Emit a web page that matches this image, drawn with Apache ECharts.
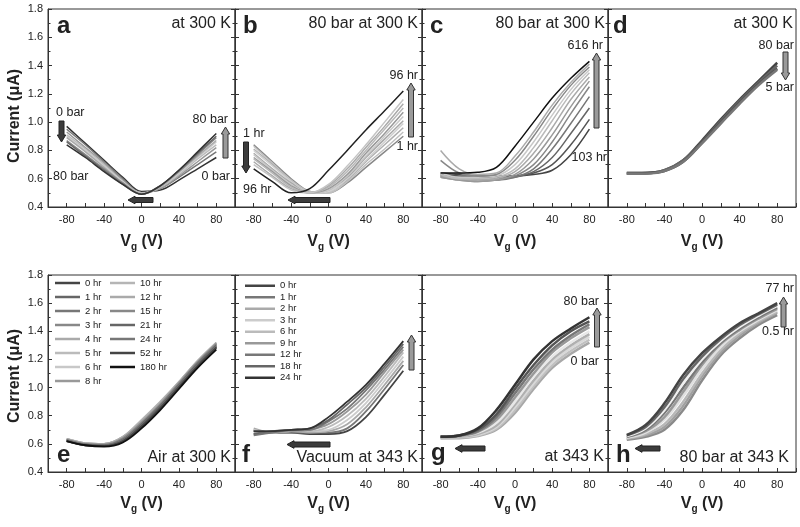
<!DOCTYPE html>
<html>
<head>
<meta charset="UTF-8">
<title>Transfer curves</title>
<script src="https://cdn.jsdelivr.net/npm/echarts@6/dist/echarts.min.js"></script>
<style>html,body{margin:0;padding:0;background:#fff;}</style>
</head>
<body>
<div id="chart" style="width:800px;height:527px;"></div>
<script>
// gate voltage (V), one sample every 20 V
var vg = [-80, -60, -40, -20, 0, 20, 40, 60, 80];
var xTickLabels = [-80, -40, 0, 40, 80];

// (a) pressure sweep at 300 K, 0 bar -> 80 bar
var curvesA = [
  [0.97, 0.85, 0.73, 0.61, 0.51, 0.52, 0.59, 0.67, 0.75],
  [0.95, 0.84, 0.72, 0.60, 0.50, 0.53, 0.61, 0.70, 0.79],
  [0.93, 0.82, 0.71, 0.59, 0.50, 0.53, 0.62, 0.72, 0.82],
  [0.91, 0.81, 0.70, 0.58, 0.50, 0.54, 0.63, 0.74, 0.84],
  [0.90, 0.80, 0.69, 0.58, 0.49, 0.54, 0.64, 0.75, 0.86],
  [0.89, 0.79, 0.68, 0.57, 0.49, 0.54, 0.65, 0.76, 0.87],
  [0.87, 0.77, 0.67, 0.57, 0.49, 0.55, 0.65, 0.77, 0.89],
  [0.86, 0.76, 0.66, 0.56, 0.49, 0.55, 0.66, 0.78, 0.90],
  [0.84, 0.75, 0.65, 0.56, 0.49, 0.55, 0.66, 0.79, 0.92]
];
// (b) 80 bar at 300 K, 1 hr -> 96 hr
var curvesB = [
  [0.84, 0.72, 0.60, 0.51, 0.50, 0.57, 0.68, 0.79, 0.90],
  [0.83, 0.71, 0.59, 0.51, 0.50, 0.58, 0.70, 0.81, 0.93],
  [0.81, 0.70, 0.58, 0.50, 0.51, 0.59, 0.72, 0.84, 0.96],
  [0.80, 0.69, 0.58, 0.50, 0.51, 0.60, 0.73, 0.86, 0.99],
  [0.78, 0.67, 0.57, 0.50, 0.52, 0.61, 0.75, 0.88, 1.01],
  [0.77, 0.66, 0.56, 0.50, 0.52, 0.62, 0.76, 0.90, 1.04],
  [0.75, 0.65, 0.55, 0.50, 0.53, 0.63, 0.78, 0.92, 1.07],
  [0.74, 0.64, 0.54, 0.50, 0.54, 0.65, 0.80, 0.95, 1.10],
  [0.72, 0.62, 0.53, 0.50, 0.55, 0.67, 0.82, 0.97, 1.13],
  [0.70, 0.61, 0.52, 0.50, 0.56, 0.69, 0.84, 1.00, 1.16],
  [0.67, 0.58, 0.50, 0.53, 0.66, 0.80, 0.945, 1.08, 1.22]
];
// (c) 80 bar at 300 K, 103 hr -> 616 hr
var curvesC = [
  [0.64, 0.63, 0.62, 0.62, 0.62, 0.63, 0.66, 0.77, 0.95],
  [0.63, 0.62, 0.61, 0.61, 0.62, 0.64, 0.70, 0.84, 1.02],
  [0.62, 0.61, 0.60, 0.60, 0.61, 0.65, 0.75, 0.92, 1.10],
  [0.62, 0.60, 0.59, 0.59, 0.61, 0.67, 0.81, 0.99, 1.18],
  [0.61, 0.59, 0.58, 0.59, 0.62, 0.70, 0.86, 1.06, 1.25],
  [0.61, 0.59, 0.58, 0.59, 0.63, 0.74, 0.91, 1.11, 1.29],
  [0.62, 0.60, 0.59, 0.60, 0.65, 0.78, 0.96, 1.16, 1.32],
  [0.63, 0.60, 0.60, 0.61, 0.67, 0.82, 1.01, 1.20, 1.35],
  [0.64, 0.61, 0.61, 0.62, 0.70, 0.86, 1.05, 1.23, 1.37],
  [0.73, 0.64, 0.62, 0.63, 0.73, 0.90, 1.09, 1.26, 1.39],
  [0.80, 0.67, 0.63, 0.64, 0.76, 0.93, 1.12, 1.28, 1.41],
  [0.64, 0.64, 0.645, 0.68, 0.83, 1.00, 1.17, 1.31, 1.43]
];
// (d) pressure sweep at 300 K, 80 bar -> 5 bar
var curvesD = [
  [0.64, 0.64, 0.66, 0.73, 0.87, 1.02, 1.16, 1.29, 1.42],
  [0.64, 0.64, 0.66, 0.73, 0.86, 1.01, 1.15, 1.28, 1.40],
  [0.635, 0.64, 0.655, 0.72, 0.855, 1.00, 1.14, 1.27, 1.38],
  [0.635, 0.635, 0.655, 0.72, 0.85, 0.99, 1.13, 1.26, 1.37]
];
// (e) air at 300 K
var namesE = ['0 hr', '1 hr', '2 hr', '3 hr', '4 hr', '5 hr', '6 hr', '8 hr',
              '10 hr', '12 hr', '15 hr', '21 hr', '24 hr', '52 hr', '180 hr'];
var curvesE = [
  [0.62, 0.59, 0.585, 0.615, 0.72, 0.85, 1.00, 1.15, 1.28],
  [0.625, 0.595, 0.59, 0.62, 0.73, 0.86, 1.01, 1.16, 1.29],
  [0.625, 0.595, 0.59, 0.625, 0.735, 0.865, 1.015, 1.165, 1.295],
  [0.63, 0.60, 0.595, 0.63, 0.74, 0.87, 1.02, 1.17, 1.30],
  [0.63, 0.60, 0.595, 0.635, 0.75, 0.88, 1.025, 1.175, 1.305],
  [0.635, 0.60, 0.60, 0.64, 0.755, 0.885, 1.03, 1.18, 1.31],
  [0.635, 0.605, 0.60, 0.645, 0.76, 0.89, 1.035, 1.185, 1.315],
  [0.635, 0.605, 0.60, 0.65, 0.765, 0.895, 1.04, 1.19, 1.32],
  [0.635, 0.605, 0.60, 0.65, 0.77, 0.90, 1.04, 1.19, 1.32],
  [0.63, 0.60, 0.60, 0.645, 0.76, 0.89, 1.035, 1.185, 1.315],
  [0.63, 0.60, 0.595, 0.64, 0.75, 0.88, 1.03, 1.18, 1.31],
  [0.625, 0.595, 0.59, 0.63, 0.74, 0.87, 1.02, 1.17, 1.30],
  [0.625, 0.595, 0.59, 0.625, 0.73, 0.86, 1.01, 1.16, 1.29],
  [0.62, 0.59, 0.585, 0.62, 0.725, 0.855, 1.005, 1.155, 1.285],
  [0.62, 0.59, 0.58, 0.61, 0.71, 0.84, 0.99, 1.14, 1.27]
];
// (f) vacuum at 343 K
var namesF = ['0 hr', '1 hr', '2 hr', '3 hr', '6 hr', '9 hr', '12 hr', '18 hr', '24 hr'];
var curvesF = [
  [0.69, 0.68, 0.68, 0.67, 0.67, 0.69, 0.79, 0.95, 1.12],
  [0.70, 0.68, 0.68, 0.68, 0.68, 0.71, 0.83, 0.99, 1.16],
  [0.71, 0.68, 0.69, 0.68, 0.69, 0.74, 0.86, 1.02, 1.19],
  [0.70, 0.68, 0.69, 0.69, 0.70, 0.77, 0.89, 1.05, 1.22],
  [0.68, 0.68, 0.69, 0.69, 0.72, 0.80, 0.92, 1.08, 1.25],
  [0.67, 0.68, 0.69, 0.70, 0.74, 0.83, 0.95, 1.11, 1.27],
  [0.66, 0.68, 0.70, 0.70, 0.76, 0.85, 0.98, 1.13, 1.29],
  [0.67, 0.69, 0.70, 0.71, 0.77, 0.88, 1.00, 1.15, 1.31],
  [0.69, 0.69, 0.70, 0.71, 0.79, 0.90, 1.02, 1.17, 1.33]
];
// (g) pressure sweep at 343 K, 0 bar -> 80 bar
var curvesG = [
  [0.64, 0.64, 0.655, 0.70, 0.82, 0.99, 1.14, 1.24, 1.32],
  [0.64, 0.645, 0.66, 0.71, 0.84, 1.01, 1.16, 1.26, 1.34],
  [0.645, 0.65, 0.665, 0.72, 0.86, 1.03, 1.18, 1.28, 1.36],
  [0.645, 0.65, 0.67, 0.73, 0.88, 1.05, 1.20, 1.30, 1.38],
  [0.65, 0.655, 0.68, 0.75, 0.90, 1.08, 1.22, 1.32, 1.40],
  [0.65, 0.655, 0.685, 0.77, 0.93, 1.10, 1.25, 1.35, 1.43],
  [0.65, 0.66, 0.69, 0.79, 0.96, 1.13, 1.27, 1.37, 1.45],
  [0.65, 0.66, 0.70, 0.81, 0.99, 1.16, 1.30, 1.40, 1.47],
  [0.65, 0.66, 0.71, 0.84, 1.02, 1.20, 1.33, 1.42, 1.50]
];
// (h) 80 bar at 343 K, 0.5 hr -> 77 hr
var curvesH = [
  [0.63, 0.65, 0.70, 0.84, 1.05, 1.23, 1.35, 1.445, 1.515],
  [0.635, 0.66, 0.72, 0.87, 1.08, 1.25, 1.37, 1.46, 1.53],
  [0.64, 0.67, 0.74, 0.90, 1.10, 1.27, 1.385, 1.47, 1.54],
  [0.645, 0.68, 0.77, 0.94, 1.13, 1.29, 1.40, 1.48, 1.55],
  [0.65, 0.69, 0.79, 0.97, 1.16, 1.31, 1.41, 1.49, 1.56],
  [0.65, 0.70, 0.82, 1.00, 1.18, 1.32, 1.42, 1.50, 1.57],
  [0.655, 0.71, 0.84, 1.03, 1.20, 1.33, 1.43, 1.51, 1.58],
  [0.66, 0.72, 0.86, 1.06, 1.22, 1.345, 1.445, 1.52, 1.59],
  [0.663, 0.734, 0.888, 1.09, 1.244, 1.36, 1.457, 1.528, 1.60]
];

// line colours (grey levels) per panel
var colorsA = ['#333', '#777', '#999', '#bbb', '#ccc', '#aaa', '#888', '#666', '#333'];
var colorsB = ['#888', '#c0c0c0', '#b0b0b0', '#d0d0d0', '#a8a8a8', '#c8c8c8', '#999', '#b8b8b8', '#aaa', '#c4c4c4', '#222'];
var colorsC = ['#444', '#555', '#666', '#777', '#888', '#999', '#aaa', '#bbb', '#c8c8c8', '#888', '#aaa', '#111'];
var colorsD = ['#444', '#666', '#555', '#777'];
var colorsE = ['#444', '#666', '#777', '#888', '#aaa', '#bbb', '#c8c8c8', '#999',
               '#b5b5b5', '#aaa', '#888', '#666', '#777', '#444', '#111'];
var colorsF = ['#444', '#777', '#aaa', '#ccc', '#bbb', '#999', '#777', '#666', '#333'];
var colorsG = ['#a8a8a8', '#c0c0c0', '#d8d8d8', '#b0b0b0', '#e8e8e8', '#999', '#777', '#555', '#333'];
var colorsH = ['#8a8a8a', '#a0a0a0', '#b8b8b8', '#e0e0e0', '#999', '#777', '#f0f0f0', '#666', '#444'];

var ff = '"Liberation Sans", Arial, sans-serif';
var ink = '#222';
var axisInk = '#333';

var cellLeft = [48, 235, 422, 608];
var cellWidth = [187, 187, 186, 188];
var rowTop = [9, 275];
var rowHeight = [198, 197];

var grids = [], xAxes = [], yAxes = [], series = [];

for (var p = 0; p < 8; p++) {
  var row = Math.floor(p / 4), col = p % 4;
  grids.push({
    left: cellLeft[col], top: rowTop[row], width: cellWidth[col], height: rowHeight[row],
    show: true, borderColor: axisInk, borderWidth: 1, containLabel: false, outerBoundsMode: 'none'
  });
  xAxes.push({
    gridIndex: p, type: 'value', min: -100, max: 100, interval: 20,
    axisLine: { onZero: false, lineStyle: { color: axisInk } },
    axisTick: { inside: true, length: 4, lineStyle: { color: axisInk } },
    splitLine: { show: false },
    axisLabel: {
      fontSize: 11, fontFamily: ff, color: ink, margin: 7,
      formatter: function (v) { return xTickLabels.indexOf(v) >= 0 ? String(v) : ''; }
    },
    name: 'V{s|g} (V)', nameLocation: 'middle', nameGap: row === 0 ? 25 : 22,
    nameTextStyle: {
      fontSize: 16, fontWeight: 'bold', fontFamily: ff, color: ink, lineHeight: 20,
      rich: { s: { fontSize: 10, fontWeight: 'bold', fontFamily: ff, color: ink, verticalAlign: 'bottom', lineHeight: 20 } }
    }
  });
  yAxes.push({
    gridIndex: p, type: 'value', min: 0.4, max: 1.8, interval: 0.2, position: 'left',
    axisLine: { show: true, onZero: false, lineStyle: { color: axisInk } },
    axisTick: { inside: true, length: 4, lineStyle: { color: axisInk } },
    minorTick: { show: true, splitNumber: 2, length: 2.5, lineStyle: { color: axisInk } },
    splitLine: { show: false },
    axisLabel: {
      show: col === 0, fontSize: 11, fontFamily: ff, color: ink, margin: 5,
      formatter: function (v) { return v.toFixed(1); }
    }
  });
}
// right-hand ticks on the shared borders
for (var q = 0; q < 8; q++) {
  if (q % 4 === 3) continue;
  yAxes.push({
    gridIndex: q, type: 'value', min: 0.4, max: 1.8, interval: 0.2, position: 'right',
    axisLine: { show: false, onZero: false },
    axisTick: { inside: true, length: 4, lineStyle: { color: axisInk } },
    minorTick: { show: true, splitNumber: 2, length: 2.5, lineStyle: { color: axisInk } },
    splitLine: { show: false },
    axisLabel: { show: false }
  });
}

function addCurves(p, curves, colors, width, names, prefix) {
  curves.forEach(function (c, k) {
    series.push({
      type: 'line',
      name: names ? prefix + names[k] : undefined,
      xAxisIndex: p, yAxisIndex: p,
      data: vg.map(function (v, j) { return [v, c[j]]; }),
      smooth: 0.35, symbol: 'none', silent: true,
      color: colors[k],
      lineStyle: { width: width, color: colors[k] }
    });
  });
}
addCurves(0, curvesA, colorsA, 1.5);
addCurves(1, curvesB, colorsB, 1.5);
addCurves(2, curvesC, colorsC, 1.5);
addCurves(3, curvesD, colorsD, 2.5);
addCurves(4, curvesE, colorsE, 1.8, namesE, 'e:');
addCurves(5, curvesF, colorsF, 1.8, namesF, 'f:');
addCurves(6, curvesG, colorsG, 2.5);
addCurves(7, curvesH, colorsH, 2.5);

function legendBox(names, prefix, left, top, width, lh) {
  return {
    orient: 'vertical', left: left, top: top, itemGap: 0, padding: 0, selectedMode: false,
    icon: 'rect', itemWidth: width, itemHeight: 2.5,
    data: names.map(function (n) { return prefix + n; }),
    formatter: function (n) { return n.slice(2); },
    textStyle: { fontSize: 9.5, fontFamily: ff, color: ink, lineHeight: lh }
  };
}

function txt(x, y, s, size, align, bold) {
  return {
    type: 'text', x: x, y: y, silent: true,
    style: {
      text: s, fill: ink,
      font: (bold ? 'bold ' : '') + size + 'px ' + ff,
      align: align, textAlign: align, verticalAlign: 'middle', textVerticalAlign: 'middle'
    }
  };
}
function vArrow(cx, yTail, yTip, light) {
  var d = yTip > yTail ? 1 : -1, hb = yTip - d * 7;
  return {
    type: 'polygon', silent: true,
    shape: { points: [[cx - 2.5, yTail], [cx + 2.5, yTail], [cx + 2.5, hb], [cx + 4.2, hb], [cx, yTip], [cx - 4.2, hb], [cx - 2.5, hb]] },
    style: { fill: light ? '#9a9a9a' : '#3c3c3c', stroke: light ? '#333' : '#222', lineWidth: 1 }
  };
}
function hArrow(cy, xTail, xTip) {
  var d = xTip > xTail ? 1 : -1, hb = xTip - d * 7;
  return {
    type: 'polygon', silent: true,
    shape: { points: [[xTail, cy - 2.5], [xTail, cy + 2.5], [hb, cy + 2.5], [hb, cy + 3.8], [xTip, cy], [hb, cy - 3.8], [hb, cy - 2.5]] },
    style: { fill: '#3c3c3c', stroke: '#222', lineWidth: 1 }
  };
}

var graphics = [
  { type: 'text', x: 15, y: 116, rotation: Math.PI / 2, silent: true,
    style: { text: 'Current (μA)', fill: ink, font: 'bold 16px ' + ff, align: 'center', verticalAlign: 'middle', textAlign: 'center', textVerticalAlign: 'middle' } },
  { type: 'text', x: 15, y: 376, rotation: Math.PI / 2, silent: true,
    style: { text: 'Current (μA)', fill: ink, font: 'bold 16px ' + ff, align: 'center', verticalAlign: 'middle', textAlign: 'center', textVerticalAlign: 'middle' } },
  // panel letters and conditions
  txt(57, 26, 'a', 24, 'left', true), txt(231, 24, 'at 300 K', 16, 'right'),
  txt(243, 26, 'b', 24, 'left', true), txt(418, 24, '80 bar at 300 K', 16, 'right'),
  txt(430, 26, 'c', 24, 'left', true), txt(605, 24, '80 bar at 300 K', 16, 'right'),
  txt(613, 26, 'd', 24, 'left', true), txt(793, 24, 'at 300 K', 16, 'right'),
  txt(57, 455, 'e', 24, 'left', true), txt(231, 458, 'Air at 300 K', 16, 'right'),
  txt(242, 455, 'f', 24, 'left', true), txt(418, 458, 'Vacuum at 343 K', 16, 'right'),
  txt(431, 453, 'g', 24, 'left', true), txt(604, 457, 'at 343 K', 16, 'right'),
  txt(616, 455, 'h', 24, 'left', true), txt(789, 458, '80 bar at 343 K', 16, 'right'),
  // small annotations
  txt(56, 113, '0 bar', 12.5, 'left'), txt(53, 177, '80 bar', 12.5, 'left'),
  txt(228, 120, '80 bar', 12.5, 'right'), txt(230, 177, '0 bar', 12.5, 'right'),
  txt(243, 134, '1 hr', 12.5, 'left'), txt(243, 190, '96 hr', 12.5, 'left'),
  txt(418, 76, '96 hr', 12.5, 'right'), txt(418, 147, '1 hr', 12.5, 'right'),
  txt(603, 46, '616 hr', 12.5, 'right'), txt(607, 158, '103 hr', 12.5, 'right'),
  txt(794, 46, '80 bar', 12.5, 'right'), txt(794, 88, '5 bar', 12.5, 'right'),
  txt(599, 302, '80 bar', 12.5, 'right'), txt(599, 362, '0 bar', 12.5, 'right'),
  txt(794, 289, '77 hr', 12.5, 'right'), txt(794, 332, '0.5 hr', 12.5, 'right'),
  // arrows
  vArrow(61.5, 121, 142, false), vArrow(225.5, 158, 127, true), hArrow(200, 153, 128),
  vArrow(246, 142, 173, false), vArrow(411, 137, 83, true), hArrow(200, 330, 288),
  vArrow(596.5, 128, 53, true),
  vArrow(785.5, 52, 80, true),
  hArrow(444.5, 330, 287), vArrow(411.5, 370, 335, true),
  hArrow(448.5, 485, 455), vArrow(597, 347, 308, true),
  hArrow(448.5, 660, 635), vArrow(783.5, 327, 297, true)
];

var chart = echarts.init(document.getElementById('chart'), null, { renderer: 'canvas' });
chart.setOption({
  backgroundColor: '#fff',
  animation: false,
  grid: grids,
  xAxis: xAxes,
  yAxis: yAxes,
  legend: [
    legendBox(namesE.slice(0, 8), 'e:', 55, 276, 25, 14),
    legendBox(namesE.slice(8), 'e:', 110, 276, 25, 14),
    legendBox(namesF, 'f:', 245, 280, 30, 11.5)
  ],
  graphic: graphics,
  series: series
});
</script>
</body>
</html>
